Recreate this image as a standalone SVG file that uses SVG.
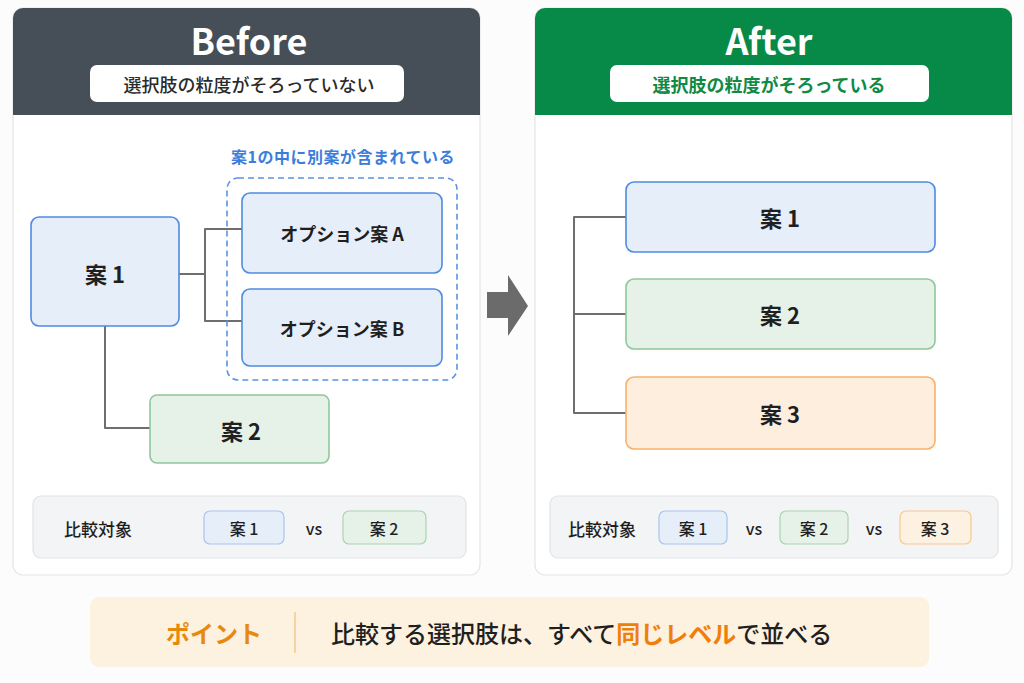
<svg xmlns="http://www.w3.org/2000/svg" width="1024" height="683" viewBox="0 0 1024 683">
<style>
text{font-family:"Noto Sans CJK JP","Noto Sans",sans-serif;dominant-baseline:central;text-anchor:middle;fill:#1f1f1f}
.card{fill:#fff;stroke:#e4e4e4;stroke-width:1.2}
.blue{fill:#e6eefa;stroke:#4f8be0;stroke-width:1.6}
.green{fill:#e6f2e8;stroke:#8ec79b;stroke-width:1.6}
.orange{fill:#fdeedd;stroke:#f6b26a;stroke-width:1.6}
.cblue{fill:#e6eefa;stroke:#a9c4ee;stroke-width:1.2}
.cgreen{fill:#e6f2e8;stroke:#a9d4b2;stroke-width:1.2}
.corange{fill:#fdf1e2;stroke:#f8c88e;stroke-width:1.2}
.bar{fill:#f3f4f5;stroke:#e2e3e5;stroke-width:1.2}
.node{font-size:22px;font-weight:700}
.opt{font-size:18px;font-weight:700}
.chip{font-size:16px;font-weight:500}
.conn{fill:none;stroke:#6e6e6e;stroke-width:2;stroke-linejoin:round}
</style>
<rect width="1024" height="683" fill="#fcfcfc"/>

<!-- Before panel -->
<g id="before-panel">
<rect class="card" x="13" y="8" width="467" height="567" rx="10"/>
<path d="M13 18 a10 10 0 0 1 10 -10 h447 a10 10 0 0 1 10 10 v97 h-467 z" fill="#464e58"/>
<text x="249" y="39" font-size="36" font-weight="700" style="fill:#fff">Before</text>
<rect x="90" y="65" width="314" height="37" rx="7" fill="#fff"/>
<text x="249" y="84" font-size="18" font-weight="500" style="fill:#2a2a2a">選択肢の粒度がそろっていない</text>
</g>

<!-- After panel -->
<g id="after-panel">
<rect class="card" x="535" y="8" width="477" height="567" rx="10"/>
<path d="M535 18 a10 10 0 0 1 10 -10 h457 a10 10 0 0 1 10 10 v97 h-477 z" fill="#078a48"/>
<text x="769" y="39" font-size="36" font-weight="700" style="fill:#fff">After</text>
<rect x="610" y="65" width="319" height="37" rx="7" fill="#fff"/>
<text x="769" y="84" font-size="18" font-weight="700" style="fill:#0f8a45">選択肢の粒度がそろっている</text>
</g>

<!-- connectors -->
<g id="connectors">
<path class="conn" d="M179 274 H205"/>
<path class="conn" d="M242 229 H205 V321 H242"/>
<path class="conn" d="M105 326 V428 H150"/>
<path class="conn" d="M626 217 H574 V413 H626"/>
<path class="conn" d="M574 314 H626"/>
</g>

<!-- Before nodes -->
<g id="group-label">
<text x="343" y="156" font-size="16" font-weight="700" letter-spacing="0.5" style="fill:#3b7ddb">案1の中に別案が含まれている</text>
<rect x="227" y="178" width="230" height="202" rx="11" fill="none" stroke="#5a93e2" stroke-width="1.6" stroke-dasharray="6 4"/>
</g>
<g id="b-an1">
<rect class="blue" x="31" y="217" width="148" height="109" rx="8"/>
<text class="node" x="105" y="273">案 1</text>
</g>
<g id="b-optA">
<rect class="blue" x="242" y="193" width="200" height="80" rx="8"/>
<text class="opt" x="342" y="233">オプション案 A</text>
</g>
<g id="b-optB">
<rect class="blue" x="242" y="289" width="200" height="77" rx="8"/>
<text class="opt" x="342" y="328">オプション案 B</text>
</g>
<g id="b-an2">
<rect class="green" x="150" y="395" width="179" height="68" rx="7"/>
<text class="node" x="241" y="430">案 2</text>
</g>

<!-- arrow -->
<g id="arrow">
<polygon points="487,292 508,292 508,275 528,306 508,336 508,318 487,318" fill="#6b6b6b"/>
</g>

<!-- After nodes -->
<g id="a-an1">
<rect class="blue" x="626" y="182" width="309" height="70" rx="8"/>
<text class="node" x="780" y="217">案 1</text>
</g>
<g id="a-an2">
<rect class="green" x="626" y="279" width="309" height="70" rx="8"/>
<text class="node" x="780" y="314">案 2</text>
</g>
<g id="a-an3">
<rect class="orange" x="626" y="377" width="309" height="72" rx="8"/>
<text class="node" x="780" y="413">案 3</text>
</g>

<!-- comparison bars -->
<g id="before-compare">
<rect class="bar" x="33" y="496" width="433" height="62" rx="8"/>
<text x="98" y="528" font-size="17" font-weight="500">比較対象</text>
<rect class="cblue" x="204" y="511" width="80" height="33" rx="6"/>
<text class="chip" x="244" y="528">案 1</text>
<text class="chip" x="314" y="528" font-weight="700">vs</text>
<rect class="cgreen" x="343" y="511" width="83" height="33" rx="6"/>
<text class="chip" x="384" y="528">案 2</text>
</g>
<g id="after-compare">
<rect class="bar" x="550" y="496" width="448" height="62" rx="8"/>
<text x="602" y="528" font-size="17" font-weight="500">比較対象</text>
<rect class="cblue" x="659" y="511" width="68" height="33" rx="6"/>
<text class="chip" x="693" y="528">案 1</text>
<text class="chip" x="754" y="528" font-weight="700">vs</text>
<rect class="cgreen" x="780" y="511" width="68" height="33" rx="6"/>
<text class="chip" x="814" y="528">案 2</text>
<text class="chip" x="874" y="528" font-weight="700">vs</text>
<rect class="corange" x="900" y="511" width="71" height="33" rx="6"/>
<text class="chip" x="935" y="528">案 3</text>
</g>

<!-- point bar -->
<g id="point">
<rect x="90" y="597" width="839" height="70" rx="9" fill="#fdf1df"/>
<text x="214" y="632" font-size="24" font-weight="700" style="fill:#e8890c">ポイント</text>
<line x1="295" y1="612" x2="295" y2="653" stroke="#f2c88e" stroke-width="1.5"/>
<text x="331" y="632" font-size="24" font-weight="500" style="text-anchor:start">比較する選択肢は、すべて<tspan font-weight="700" style="fill:#ef7f0a">同じレベル</tspan>で並べる</text>
</g>
</svg>
